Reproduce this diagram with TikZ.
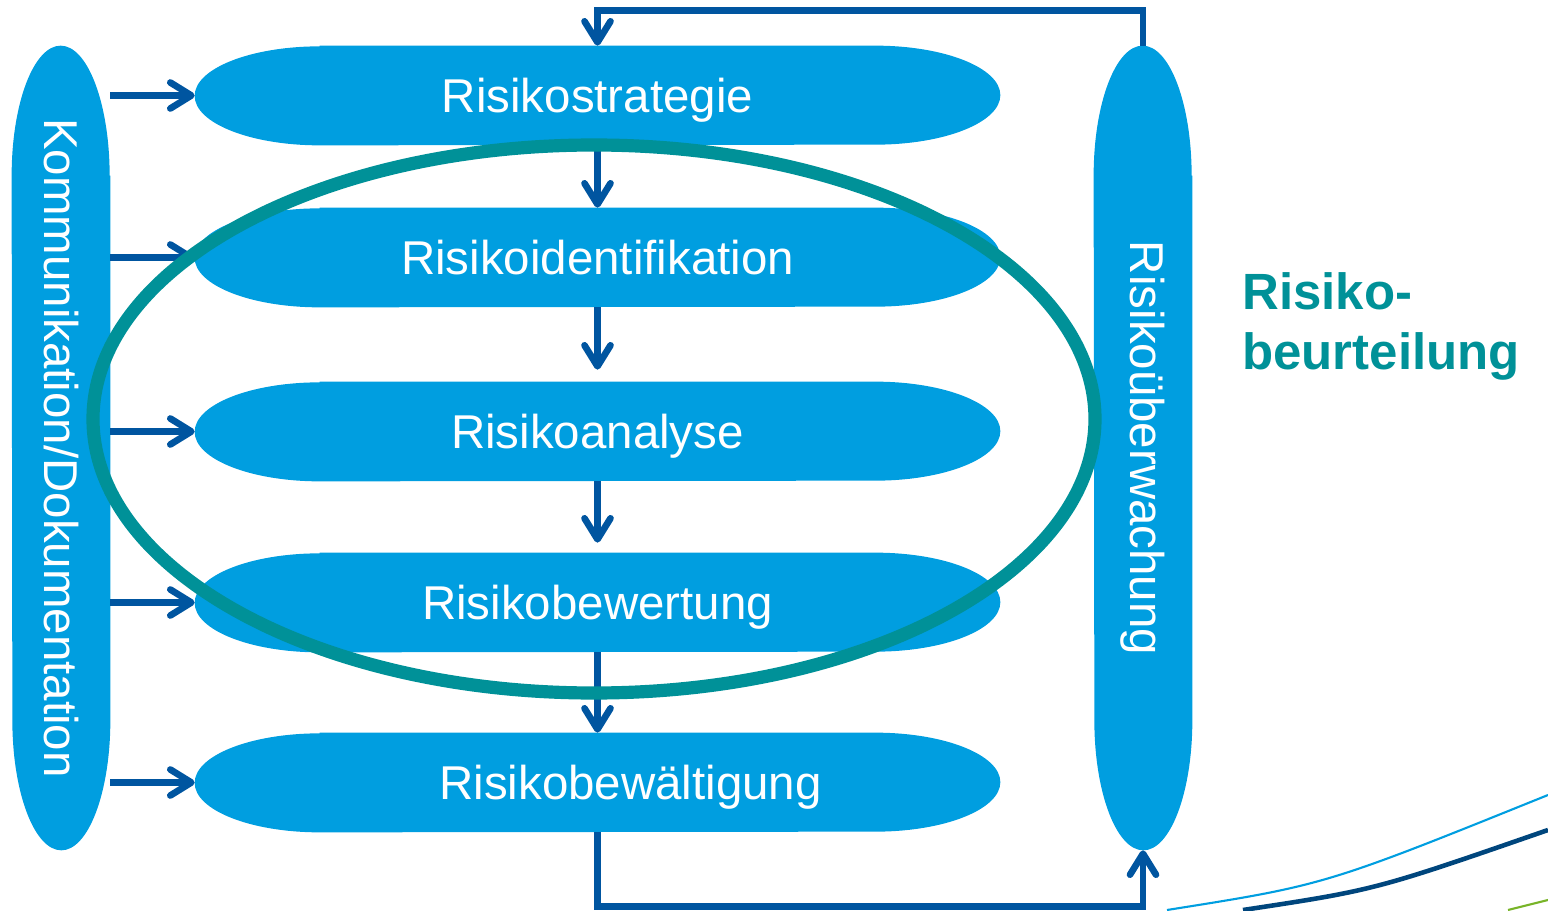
\documentclass[tikz,border=0pt]{standalone}
\usepackage{fontspec}
\setmainfont{Liberation Sans}
\usetikzlibrary{arrows.meta,positioning,backgrounds,calc}

\definecolor{hellblau}{RGB}{0,158,224}
\definecolor{dunkelblau}{RGB}{0,85,160}
\definecolor{petrol}{RGB}{0,145,152}
\definecolor{marine}{RGB}{0,70,125}
\definecolor{gruen}{RGB}{120,180,40}

\begin{document}
\begin{tikzpicture}[
  every node/.style={font=\fontsize{27}{32}\selectfont},
  stufe/.style={
    rectangle, inner sep=0pt, text=white, text depth=0pt,
    minimum width=16.1cm, minimum height=1.98cm},
  seite/.style={
    rectangle, inner sep=0pt,
    minimum width=1.96cm, minimum height=16.08cm},
  seitentext/.style={text=white, rotate=-90, inner sep=0pt},
  pfeil/.style={dunkelblau, line width=3.8pt,
    -{Straight Barb[length=4.2mm, width=5.2mm, round]}}
]
  \useasboundingbox (0,0) rectangle (30.96,18.2);

  %% ── Prozessschritte ──────────────────────────────────────
  \node[stufe](strat)   at (11.95,16.29) {Risikostrategie};
  \node[stufe](ident)   at (11.95,13.05) {Risikoidentifikation};
  \node[stufe](analyse) at (11.95,9.57)  {Risikoanalyse};
  \node[stufe](bewert)  at (11.95,6.15)  {Risikobewertung};
  \node[stufe](bewael)  at (11.95,2.55)  {\hspace*{1.32cm}Risikobew\"altigung};

  %% ── Seitliche Balken ─────────────────────────────────────
  \node[seite](kom)  at (1.22,9.24)  {};
  \node[seite](uber) at (22.86,9.24) {};
  \node[seitentext](komtext)  at (kom)  {Kommunikation/Dokumentation};
  \node[seitentext](ubertext) at (uber) {Risiko\"uberwachung};

  %% ── Flächen hinter den Knoten ───────────────────────────
  \begin{scope}[on background layer]
    \foreach \n in {strat,ident,analyse,bewert,bewael}
      \fill[hellblau]
        ([xshift=2.5cm]\n.north west) -- ([xshift=-2.5cm]\n.north east)
        arc[start angle=90, end angle=-90, x radius=2.5cm, y radius=0.99cm]
        -- ([xshift=2.5cm]\n.south west)
        arc[start angle=270, end angle=90, x radius=2.5cm, y radius=0.99cm]
        -- cycle;
    \foreach \n in {kom,uber}
      \fill[hellblau]
        ([yshift=-2.6cm]\n.north east) -- ([yshift=2.6cm]\n.south east)
        arc[start angle=0, end angle=-180, x radius=0.98cm, y radius=2.6cm]
        -- ([yshift=-2.6cm]\n.north west)
        arc[start angle=180, end angle=0, x radius=0.98cm, y radius=2.6cm]
        -- cycle;
  \end{scope}

  %% ── Pfeile ───────────────────────────────────────────────
  \foreach \n in {strat,ident,analyse,bewert,bewael}
    \draw[pfeil] (kom.east |- \n.west) -- (\n.west);

  \draw[pfeil] (strat.south) -- (ident.north);
  \draw[pfeil, shorten >=0.24cm] (ident.south) -- (analyse.north);
  \draw[pfeil, shorten >=0.2cm] (analyse.south) -- (bewert.north);
  \draw[pfeil] (bewert.south) -- (bewael.north);

  %% ── Rückkopplung ─────────────────────────────────────────
  \draw[pfeil] (uber.north) -- ++(0,0.7) -| (strat.north);
  \draw[pfeil] (bewael.south) -- ++(0,-1.48) -| (uber.south);

  %% ── Risikobeurteilung ────────────────────────────────────
  \draw[petrol, line width=7.5pt]
    (11.88,9.82) ellipse [x radius=10.02cm, y radius=5.48cm];
  \node[font=\bfseries\fontsize{29}{34}\selectfont, text=petrol,
        align=left, anchor=north west, inner sep=0pt]
    (beurt) at (24.84,12.76) {Risiko-\\beurteilung};

  %% ── Zierlinien unten rechts ──────────────────────────────
  \draw[hellblau, line width=1.2pt]
    (23.34,0) .. controls (26.5,0.5) .. (30.96,2.3);
  \draw[marine, line width=2.6pt]
    (24.86,0) .. controls (27.5,0.4) .. (30.96,1.6);
  \draw[gruen, line width=1.2pt] (30.16,0) -- (30.96,0.2);

\end{tikzpicture}
\end{document}
